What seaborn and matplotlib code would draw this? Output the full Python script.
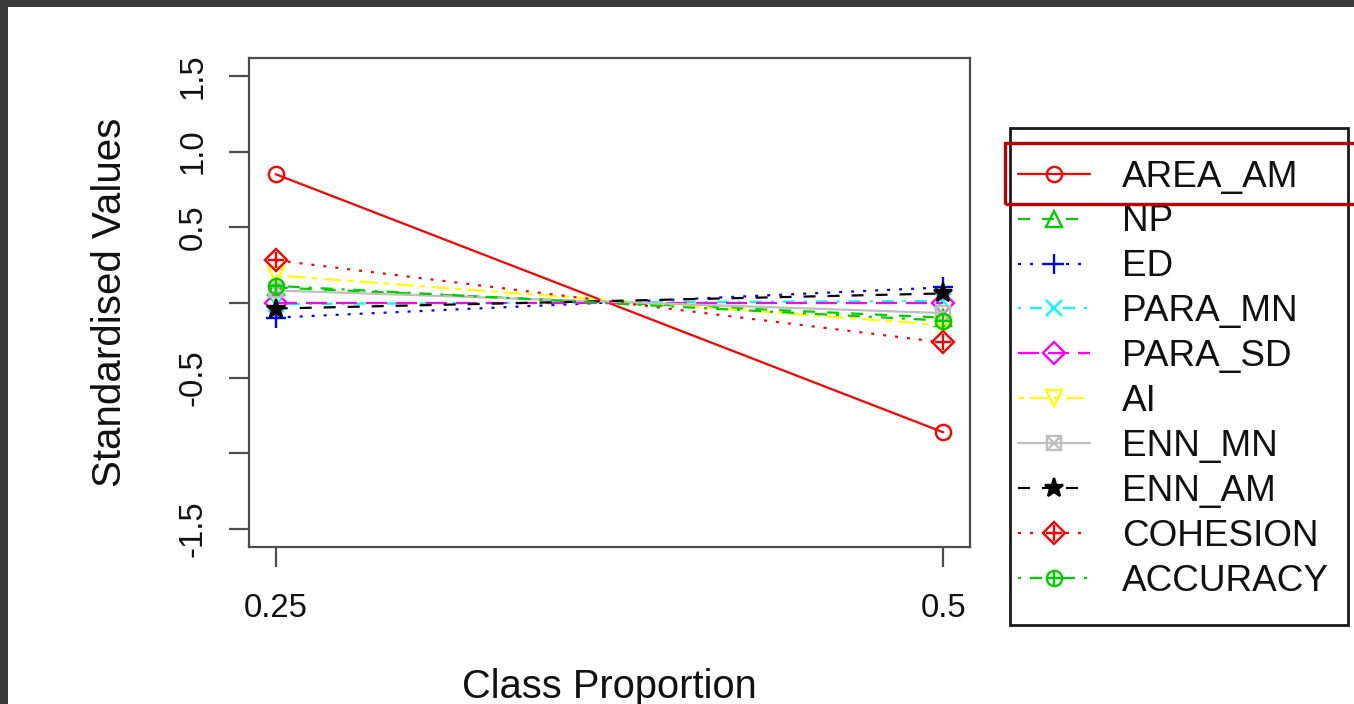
import matplotlib
matplotlib.use("Agg")
import matplotlib.pyplot as plt
import seaborn as sns
import pandas as pd
from matplotlib.patches import Rectangle
from matplotlib.legend_handler import HandlerTuple

# ---------------- data ----------------
class_prop = [0.25, 0.5]
x_tick_labels = ["0.25", "0.5"]
area_am = [0.85, -0.86]
np_vals = [0.10, -0.10]
ed = [-0.10, 0.10]
para_mn = [-0.01, 0.01]
para_sd = [0.0, 0.0]
ai = [0.18, -0.15]
enn_mn = [0.08, -0.07]
enn_am = [-0.04, 0.06]
cohesion = [0.28, -0.265]
accuracy = [0.11, -0.12]
metric_names = ["AREA_AM", "NP", "ED", "PARA_MN", "PARA_SD", "AI",
                "ENN_MN", "ENN_AM", "COHESION", "ACCURACY"]
y_ticks = [-1.5, -1.0, -0.5, 0.0, 0.5, 1.0, 1.5]
y_tick_labels = ["-1.5", "", "-0.5", "", "0.5", "1.0", "1.5"]

series = [area_am, np_vals, ed, para_mn, para_sd, ai, enn_mn, enn_am, cohesion, accuracy]

# ---------------- style ----------------
sns.set_theme(style="white")
plt.rcParams["font.family"] = ["Liberation Sans", "DejaVu Sans"]
plt.rcParams["lines.scale_dashes"] = False

colors = ["#FF0000", "#00CD00", "#0000FF", "#00FFFF", "#FF00FF", "#FFFF00",
          "#BEBEBE", "#000000", "#FF0000", "#00CD00"]
u = 2.16
lty = {
    "solid": "-",
    "dashed": (0, (4 * u, 4 * u)),
    "dotted": (0, (1 * u, 3 * u)),
    "dotdash": (0, (1 * u, 3 * u, 4 * u, 3 * u)),
    "longdash": (0, (7 * u, 3 * u)),
    "twodash": (0, (2 * u, 2 * u, 6 * u, 2 * u)),
}
linestyles = ["solid", "dashed", "dotted", "dotdash", "longdash", "twodash",
              "solid", "dashed", "dotted", "dotdash"]
markers = ["o", "^", "+", "x", "D", "v", "s", "*", "D", "o"]
overlay = [None, None, None, None, None, None, "x", None, "+", "+"]
msize = [11, 11, 14, 11, 11, 11, 10, 14, 11, 11]

W, H = 1354, 704
fig = plt.figure(figsize=(W / 100, H / 100), dpi=100)
fig.patch.set_facecolor("white")
ax = fig.add_axes([249 / W, 1 - 547 / H, (970 - 249) / W, (547 - 58) / H])
ax.set_facecolor("white")

handles = []
for name, vals, col, ls, mk, ov, ms in zip(metric_names, series, colors, linestyles,
                                           markers, overlay, msize):
    df = pd.DataFrame({"x": class_prop, "y": vals})
    sns.lineplot(data=df, x="x", y="y", ax=ax, color=col, linestyle=lty[ls],
                 linewidth=1.6, marker=mk, markersize=ms,
                 markerfacecolor=(col if mk == "*" else "none"),
                 markeredgecolor=col, markeredgewidth=1.7, legend=False)
    ln = ax.get_lines()[-1]
    if ov is not None:
        sns.lineplot(data=df, x="x", y="y", ax=ax, color=col, linestyle="none",
                     marker=ov, markersize=ms, markeredgecolor=col,
                     markeredgewidth=1.7, legend=False)
        handles.append((ln, ax.get_lines()[-1]))
    else:
        handles.append(ln)

ax.set_xlim(0.24, 0.51)
ax.set_ylim(-1.62, 1.62)
ax.set_xticks(class_prop)
ax.set_xticklabels(x_tick_labels)
ax.set_yticks(y_ticks)
ax.set_yticklabels(y_tick_labels)

spine_col = "#4d4d4d"
for sp in ax.spines.values():
    sp.set_visible(True)
    sp.set_color(spine_col)
    sp.set_linewidth(1.6)

ax.tick_params(axis="both", which="major", length=14.4, width=1.6, color=spine_col,
               labelsize=23.7, labelcolor="#111111", direction="out",
               bottom=True, left=True)
ax.tick_params(axis="x", pad=19)
ax.tick_params(axis="y", pad=14.5, labelrotation=90)
for lab in ax.get_yticklabels():
    lab.set_verticalalignment("center")

ax.set_xlabel("Class Proportion", fontsize=28.7, color="#111111")
ax.set_ylabel("Standardised Values", fontsize=29, color="#111111")
ax.xaxis.set_label_coords(0.5, -(668 - 547) / (547 - 58))
ax.yaxis.set_label_coords(-(250 - 130) / (970 - 249), 0.5)

# legend frame
fig.patches.append(Rectangle((1010 / W, 1 - 625 / H), (1348 - 1010) / W, (625 - 128) / H,
                             transform=fig.transFigure, fill=False,
                             edgecolor="#1a1a1a", linewidth=2.0, zorder=5))
leg = fig.legend(handles, metric_names, loc="upper left",
                 bbox_to_anchor=(1018 / W, 1 - 159.5 / H), bbox_transform=fig.transFigure,
                 frameon=False, borderpad=0, borderaxespad=0, fontsize=26.6,
                 handlelength=1.95, handletextpad=0.86, labelspacing=0.27,
                 numpoints=1, handler_map={tuple: HandlerTuple(ndivide=1, pad=0)})
for t in leg.get_texts():
    t.set_color("#111111")

# highlight rectangle around first legend entry
fig.patches.append(Rectangle((1005 / W, 1 - 204 / H), (1370 - 1005) / W, (204 - 143) / H,
                             transform=fig.transFigure, fill=False,
                             edgecolor="#C00000", linewidth=2.4, zorder=6))

# dark screenshot frame
fig.patches.append(Rectangle((0, 1 - 7 / H), 1, 7 / H, transform=fig.transFigure,
                             facecolor="#3a3a3a", edgecolor="none", zorder=10))
fig.patches.append(Rectangle((0, 0), 8 / W, 1, transform=fig.transFigure,
                             facecolor="#3a3a3a", edgecolor="none", zorder=10))

fig.savefig("out.png", dpi=100)
